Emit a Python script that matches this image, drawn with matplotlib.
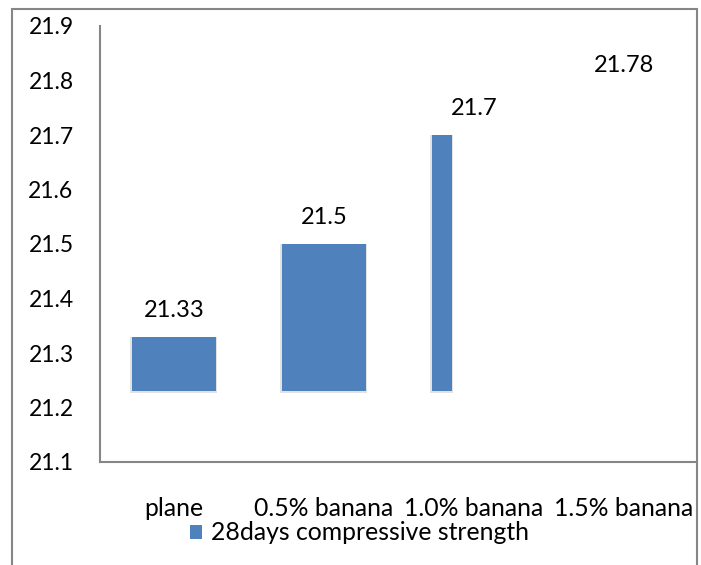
import numpy as np
import matplotlib.pyplot as plt
from matplotlib.patches import Rectangle

plt.rcParams['font.family'] = ['Lato', 'DejaVu Sans']

categories = ['plane', '0.5% banana', '1.0% banana', '1.5% banana']
strength = [21.33, 21.5, 21.7, 21.78]
series_name = '28days compressive strength'
yticks = [21.1, 21.2, 21.3, 21.4, 21.5, 21.6, 21.7, 21.8, 21.9]

# the source chart is a rendering glitch: bars float from 21.23 and get narrower
base = 21.23
widths = [0.56, 0.56, 0.133, 0.0]
blue = '#4F81BD'
grey = '#868686'

fig = plt.figure(figsize=(7.01, 5.65), dpi=100)
ax = fig.add_axes([100/701, 103/565, 597/701, 436/565])

x = np.arange(len(categories))
# faint shadow behind the bars
ax.bar(x - 0.29, [v - base + 0.004 for v in strength], bottom=base - 0.004,
       width=[w + 0.02 if w > 0 else 0 for w in widths], align='edge',
       color='#d0d0d0', alpha=0.6, zorder=1)
bars = ax.bar(x - 0.28, [v - base for v in strength], bottom=base,
              width=widths, align='edge', color=blue, zorder=2,
              label=series_name)

for xi, v in zip(x, strength):
    ax.annotate(f'{v:g}', (xi, v), xytext=(0, 19), textcoords='offset points',
                ha='center', va='center', fontsize=17)

ax.set_xlim(-0.493, 3.487)
ax.set_ylim(21.1, 21.9)
ax.set_yticks(yticks)
ax.set_yticklabels([f'{t:.1f}' for t in yticks], fontsize=16.5)
ax.set_xticks(x)
ax.set_xticklabels(categories, fontsize=17.8)
ax.tick_params(axis='y', length=0, pad=19)
ax.tick_params(axis='x', length=0, pad=25)

for s in ['top', 'right']:
    ax.spines[s].set_visible(False)
for s in ['left', 'bottom']:
    ax.spines[s].set_color(grey)
    ax.spines[s].set_linewidth(1.5)

# outer chart border
fig.patches.append(Rectangle((12/701, -0.05), 685/701, 1.05 - 9/565,
                             transform=fig.transFigure, fill=False,
                             edgecolor=grey, linewidth=1.5))

fig.legend(handles=[bars], labels=[series_name], loc='center left',
           bbox_to_anchor=(190/701, 1 - 533/565), frameon=False,
           fontsize=17.8, handlelength=0.5, handleheight=0.5,
           handletextpad=0.35, borderpad=0, borderaxespad=0)

fig.savefig('out.png', dpi=100)
